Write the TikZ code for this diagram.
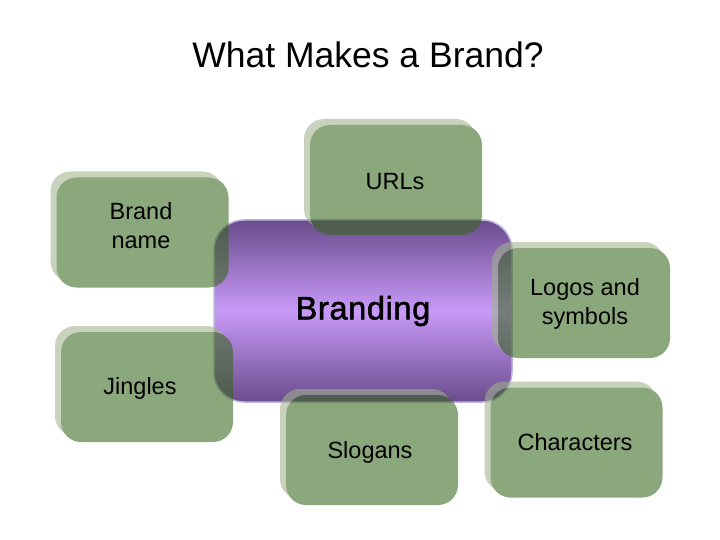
\documentclass[tikz,border=0pt]{standalone}
\usepackage{fontspec}
\setmainfont{Liberation Sans}
\usetikzlibrary{shadows}

\definecolor{tilegreen}{RGB}{55,103,29}
\definecolor{tileshade}{RGB}{160,178,140}
\definecolor{hubdark}{RGB}{106,76,140}
\definecolor{hublight}{RGB}{200,154,248}
\definecolor{hubrim}{RGB}{190,178,222}

\tikzset{
  tile/.style={fill=tilegreen, rounded corners=20pt, inner sep=0pt,
    minimum width=172pt, minimum height=110pt,
    general shadow={fill=tileshade, shadow xshift=-6pt, shadow yshift=6pt}},
  tilegroup/.style={transparency group, opacity=0.58},
  tiletext/.style={font=\fontsize{23.5}{29}\selectfont, align=center},
  hub/.style={draw=hubrim, line width=1.5pt, rounded corners=30pt,
    minimum width=298pt, minimum height=182pt,
    top color=hubdark, bottom color=hubdark, middle color=hublight,
    font=\fontsize{32.5}{38}\selectfont\addfontfeature{FakeBold=1.6,LetterSpace=2}}
}

\begin{document}
\begin{tikzpicture}[x=1pt, y=-1pt]
  \useasboundingbox (0,0) rectangle (720,540);

  \node [font=\fontsize{35.5}{42}\selectfont] at (368,55) (title) {What Makes a Brand?};

  \node [hub] at (363,311) (Br) {Branding};

  % green tiles round the hub
  \begin{scope}[tilegroup]
    \node [tile] at (396,180) (T1) {};
  \end{scope}
  \begin{scope}[tilegroup]
    \node [tile] at (142.5,232.5) (T2) {};
  \end{scope}
  \begin{scope}[tilegroup]
    \node [tile] at (584,303) (T3) {};
  \end{scope}
  \begin{scope}[tilegroup]
    \node [tile] at (147,387) (T4) {};
  \end{scope}
  \begin{scope}[tilegroup]
    \node [tile] at (372,450) (T5) {};
  \end{scope}
  \begin{scope}[tilegroup]
    \node [tile] at (576.5,442.5) (T6) {};
  \end{scope}

  \node [tiletext] at (395,182) (l1) {URLs};
  \node [tiletext] at (141,226) (l2) {Brand\\name};
  \node [tiletext] at (585,304) (l3) {Logos and\\symbols};
  \node [tiletext] at (140,388) (l4) {Jingles};
  \node [tiletext] at (370,452) (l5) {Slogans};
  \node [tiletext] at (575,442) (l6) {Characters};

\end{tikzpicture}
\end{document}
